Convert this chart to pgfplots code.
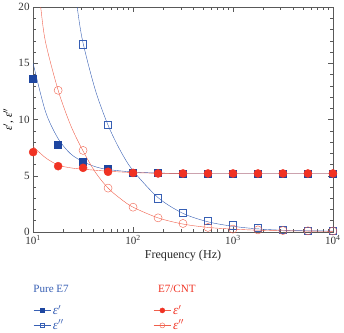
\documentclass[border=0pt]{standalone}
\usepackage{pgfplots}
\pgfplotsset{compat=1.18}
\usepackage{fontspec}
\setmainfont{Liberation Serif}
\definecolor{bdark}{RGB}{30,70,160}
\definecolor{bline}{RGB}{55,95,180}
\definecolor{rdark}{RGB}{240,50,35}
\definecolor{rline}{RGB}{240,95,75}
\newcommand{\ep}{\textit{ε}$'$}
\newcommand{\epp}{\textit{ε}$''$}
\newcommand{\lf}{\fontsize{13}{15}\selectfont}
\begin{document}
\begin{tikzpicture}
\begin{axis}[
  scale only axis, width=296bp, height=222bp,
  clip mode=individual,
  xmode=log, xmin=10, xmax=10000, ymin=0, ymax=20,
  xtick={10,100,1000,10000},
  xticklabels={10\textsuperscript{1},10\textsuperscript{2},10\textsuperscript{3},10\textsuperscript{4}},
  ytick={0,5,10,15,20}, yticklabels={0,5,10,15,20}, minor y tick num=4,
  tick align=inside, tick pos=both,
  axis line style={black!65}, every tick/.style={black!65},
  major tick length=5pt, minor tick length=3pt,
  tick label style={font=\fontsize{11}{13}\selectfont, black!80},
  xlabel={Frequency (Hz)}, xlabel style={font=\fontsize{12}{14}\selectfont, black!85, yshift=2pt},
  ylabel={\ep, \epp}, ylabel style={font=\fontsize{11}{13}\selectfont, yshift=-2pt},
  legend columns=2,
  legend style={at={(0,-0.315)}, anchor=north west, draw=none, fill=none, inner sep=0pt,
    row sep=0pt,
    /tikz/every even column/.append style={column sep=87pt}},
  legend cell align=left,
]
% fitted curves
\addplot[bline, thin, smooth, forget plot] coordinates {(10,15.0)(13.3,10.7)(17.8,8.3)(23.7,6.95)(31.6,6.25)(42,5.8)(56.2,5.55)(100,5.33)(178,5.24)(316,5.2)(1000,5.2)(10000,5.2)};
\addplot[bline, thin, smooth, forget plot] coordinates {(22,27)(25,23.2)(28,19.6)(31.6,16.8)(42,12.6)(56.2,9.5)(75,7.2)(100,5.45)(178,3.05)(316,1.65)(562,0.9)(1000,0.5)(1778,0.27)(3162,0.15)(5623,0.1)(10000,0.08)};
\addplot[rline, thin, smooth, forget plot] coordinates {(10,7.6)(13.3,6.6)(17.8,5.95)(23.7,5.7)(31.6,5.58)(56.2,5.4)(100,5.28)(178,5.22)(316,5.2)(1000,5.2)(10000,5.2)};
\addplot[rline, thin, smooth, forget plot] coordinates {(10,26)(11,22.5)(11.9,20)(13.3,16.9)(17.8,12.6)(23.7,9.5)(31.6,7.2)(42,5.3)(56.2,3.9)(75,2.95)(100,2.2)(178,1.25)(316,0.7)(562,0.4)(1000,0.25)(1778,0.15)(3162,0.1)(10000,0.05)};
% data points
\addplot[only marks, mark=square*, mark size=3.5pt, bdark, forget plot] coordinates {(10,13.6)(17.8,7.8)(31.6,6.25)(56.2,5.6)(100,5.3)(178,5.25)(316,5.2)(562,5.2)(1000,5.2)(1778,5.2)(3162,5.2)(5623,5.2)(10000,5.2)};
\addplot[only marks, mark=square, mark size=3.5pt, bline, forget plot] coordinates {(31.6,16.7)(56.2,9.5)(178,3.0)(316,1.7)(562,1.0)(1000,0.6)(1778,0.35)(3162,0.2)(5623,0.15)(10000,0.1)};
\addplot[only marks, mark=*, mark size=4pt, rdark, forget plot] coordinates {(10,7.1)(17.8,5.85)(31.6,5.7)(56.2,5.35)(100,5.25)(178,5.2)(316,5.2)(562,5.2)(1000,5.2)(1778,5.2)(3162,5.2)(5623,5.2)(10000,5.2)};
\addplot[only marks, mark=o, mark size=4pt, rline, forget plot] coordinates {(17.8,12.6)(31.6,7.25)(56.2,3.9)(100,2.2)(178,1.25)(316,0.75)(562,0.4)(1000,0.25)(1778,0.18)(3162,0.12)(5623,0.1)(10000,0.08)};
% legend
\addlegendimage{bline, mark=square*, mark options={fill=bdark, draw=bdark}, mark size=2.2pt}
\addlegendentry{\color{bline}\lf\ep}
\addlegendimage{rline, mark=*, mark options={fill=rdark, draw=rdark}, mark size=2.5pt}
\addlegendentry{\color{rdark}\lf\ep}
\addlegendimage{bline, mark=square, mark size=2.2pt}
\addlegendentry{\color{bline}\lf\epp}
\addlegendimage{rline, mark=o, mark size=2.5pt}
\addlegendentry{\color{rdark}\lf\epp}
\node[anchor=west, text=bline, font=\fontsize{11}{13}\selectfont, inner sep=0pt] at (rel axis cs:0,-0.255) {Pure E7};
\node[anchor=west, text=rdark, font=\fontsize{11}{13}\selectfont, inner sep=0pt] at (rel axis cs:0.416,-0.255) {E7/CNT};
\end{axis}
\end{tikzpicture}
\end{document}
